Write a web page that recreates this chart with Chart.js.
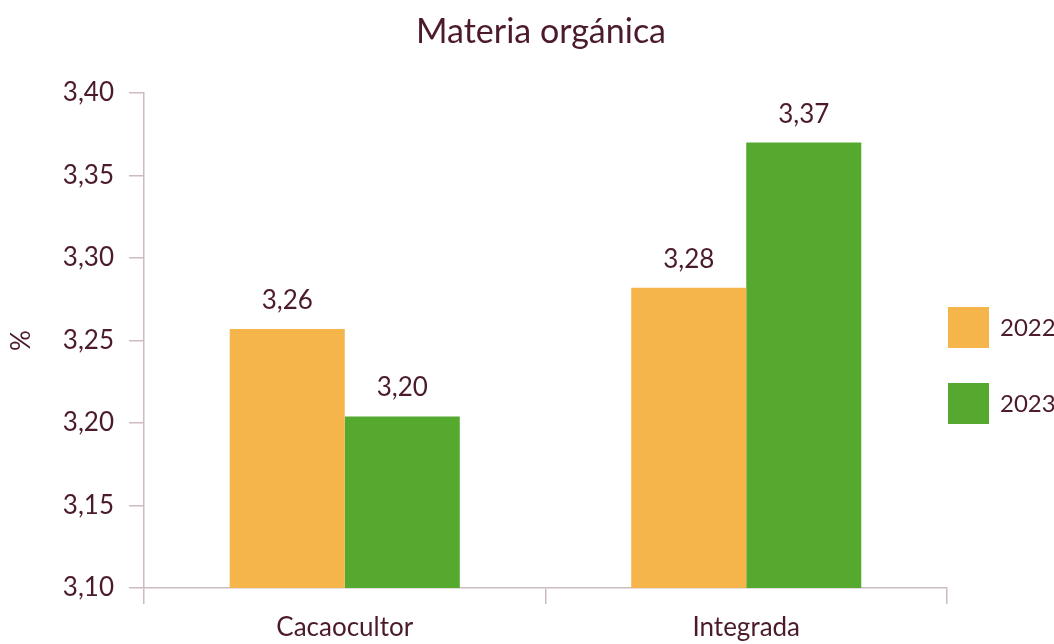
<!DOCTYPE html>
<html lang="es">
<head>
<meta charset="utf-8">
<title>Materia orgánica</title>
<script src="https://cdn.jsdelivr.net/npm/chart.js@4/dist/chart.umd.min.js"></script>
<style>
  html, body { margin: 0; padding: 0; background: #fff; }
  #wrap { width: 1054px; height: 644px; }
</style>
</head>
<body>
<div id="wrap"><canvas id="grafico" width="1054" height="644"></canvas></div>
<script>
// Datos
const categorias = ['Cacaocultor', 'Integrada'];
const anios = ['2022', '2023'];
const valores2022 = [3.257, 3.282];
const valores2023 = [3.204, 3.370];
const yMin = 3.10;
const yMax = 3.40;
const yPaso = 0.05;

const TEXTO = '#4b1a2d';
const EJE = '#cdbbc0';
const COLORES = ['#f5b54b', '#54a92e'];
const FUENTE = 'Lato, "Open Sans", sans-serif';

const formato = v => v.toFixed(2).replace('.', ',');

// Título, etiquetas de valor y leyenda dibujados a mano
const extras = {
    id: 'extras',
    afterDatasetsDraw(chart) {
        const ctx = chart.ctx;
        ctx.save();
        ctx.fillStyle = TEXTO;
        ctx.textAlign = 'center';
        ctx.textBaseline = 'alphabetic';
        ctx.font = '26px ' + FUENTE;
        chart.data.datasets.forEach((ds, i) => {
            chart.getDatasetMeta(i).data.forEach((bar, j) => {
                ctx.fillText(formato(ds.data[j]), bar.x, bar.y - 20);
            });
        });

        // título
        ctx.font = '34px ' + FUENTE;
        ctx.fillText('Materia orgánica', 541, 43);

        // leyenda
        const x = chart.chartArea.right + 1;
        ctx.textAlign = 'left';
        ctx.textBaseline = 'middle';
        ctx.font = '24px ' + FUENTE;
        chart.data.datasets.forEach((ds, i) => {
            const y = 307 + i * 76;
            ctx.fillStyle = ds.backgroundColor;
            ctx.fillRect(x, y, 41, 41);
            ctx.fillStyle = TEXTO;
            ctx.fillText(ds.label, x + 52, y + 21);
        });
        ctx.restore();
    }
};

new Chart(document.getElementById('grafico'), {
    type: 'bar',
    data: {
        labels: categorias,
        datasets: [
            { label: anios[0], data: valores2022, backgroundColor: COLORES[0] },
            { label: anios[1], data: valores2023, backgroundColor: COLORES[1] }
        ]
    },
    options: {
        responsive: false,
        animation: false,
        layout: { padding: { top: 93, right: 107, left: 0, bottom: 0 } },
        datasets: { bar: { categoryPercentage: 0.573, barPercentage: 1, borderWidth: 0 } },
        plugins: {
            legend: { display: false },
            title: { display: false },
            tooltip: { enabled: false }
        },
        scales: {
            x: {
                offset: true,
                grid: { offset: true, drawOnChartArea: false, color: EJE, lineWidth: 1.5, tickLength: 16 },
                border: { color: EJE, width: 1.5 },
                ticks: { color: TEXTO, font: { family: FUENTE, size: 26 }, padding: 8 },
                afterFit(scale) { scale.height = 56; }
            },
            y: {
                min: yMin,
                max: yMax,
                grid: { drawOnChartArea: false, color: EJE, lineWidth: 1.5, tickLength: 15 },
                border: { color: EJE, width: 1.5 },
                ticks: {
                    stepSize: yPaso,
                    color: TEXTO,
                    font: { family: FUENTE, size: 26 },
                    padding: 15,
                    callback: v => formato(v)
                },
                title: {
                    display: true,
                    text: '%',
                    color: TEXTO,
                    font: { family: FUENTE, size: 26 },
                    padding: { top: 6, bottom: 0 }
                },
                afterFit(scale) { scale.width = 144; }
            }
        }
    },
    plugins: [extras]
});
</script>
</body>
</html>
